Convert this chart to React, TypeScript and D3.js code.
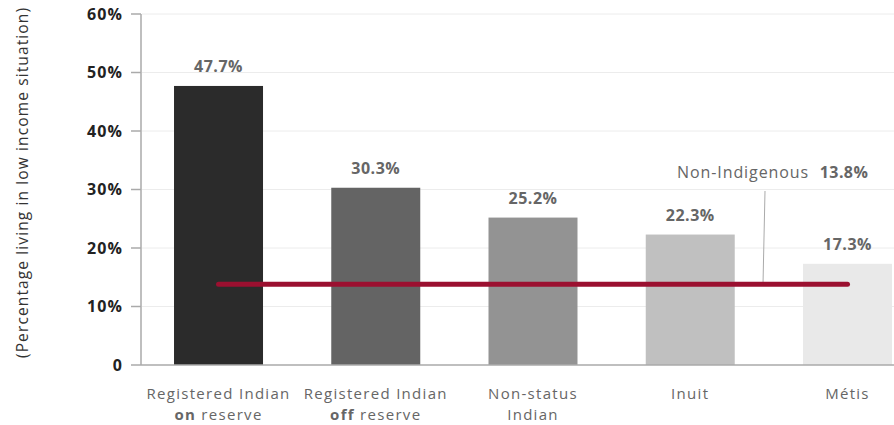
import React from "react";
import * as d3 from "d3";

const categories = ["onReserve", "offReserve", "nonStatus", "inuit", "metis"];
const values = [47.7, 30.3, 25.2, 22.3, 17.3];
const barColors = ["#2b2b2b", "#646464", "#939393", "#c0c0c0", "#e9e9e9"];
const labelLine1 = ["Registered Indian", "Registered Indian", "Non-status", "Inuit", "Métis"];
const labelLine2Bold = ["on", "off", "", "", ""];
const labelLine2Rest = [" reserve", " reserve", "Indian", "", ""];
const yTicks = [0, 10, 20, 30, 40, 50, 60];
const nonIndigenous = 13.8;
const nonIndigenousLabel = "Non-Indigenous";
const yTitle = "(Percentage living in low income situation)";

const W = 894;
const H = 425;
const FONT = "'Open Sans', sans-serif";

export default function App() {
  const x = d3
    .scaleBand<string>()
    .domain(categories)
    .range([141, 925])
    .paddingInner(0.434)
    .paddingOuter(0.21);
  const y = d3.scaleLinear().domain([0, 60]).range([365, 14]);
  const bw = x.bandwidth();
  const cx = (c: string) => (x(c) as number) + bw / 2;
  const fmt = (v: number) => `${v.toFixed(1)}%`;

  const lineY = y(nonIndigenous);
  const x0 = cx(categories[0]);
  const x1 = cx(categories[categories.length - 1]);

  return (
    <svg
      width={W}
      height={H}
      style={{ position: "absolute", left: 0, top: 0, background: "#fff" }}
      fontFamily={FONT}
    >
      {/* gridlines */}
      {yTicks.filter((t) => t > 0).map((t) => (
        <line key={t} x1={142} x2={W} y1={y(t)} y2={y(t)} stroke="#ececec" strokeWidth={1} />
      ))}
      {/* y ticks */}
      {yTicks.map((t) => (
        <g key={t}>
          <line x1={131} x2={141} y1={y(t)} y2={y(t)} stroke="#aaa" strokeWidth={1.5} />
          <text
            x={123}
            y={y(t)}
            dy="0.36em"
            textAnchor="end"
            fontSize={16}
            fontWeight={700}
            letterSpacing={1.1}
            fill="#222"
          >
            {t === 0 ? "0" : `${t}%`}
          </text>
        </g>
      ))}
      {/* bars */}
      {categories.map((c, i) => (
        <rect
          key={c}
          x={x(c)}
          y={y(values[i])}
          width={bw}
          height={y(0) - y(values[i])}
          fill={barColors[i]}
        />
      ))}
      {/* axes */}
      <line x1={141} x2={141} y1={y(60)} y2={y(0)} stroke="#aaa" strokeWidth={1.5} />
      <line x1={141} x2={W} y1={y(0)} y2={y(0)} stroke="#aaa" strokeWidth={1.5} />
      {/* value labels */}
      {categories.map((c, i) => (
        <text
          key={c}
          x={cx(c)}
          y={y(values[i]) - 14}
          textAnchor="middle"
          fontSize={16}
          fontWeight={700}
          letterSpacing={0.5}
          fill="#666"
        >
          {fmt(values[i])}
        </text>
      ))}
      {/* non-indigenous reference */}
      <line x1={765} y1={191} x2={763} y2={lineY} stroke="#aaa" strokeWidth={1} />
      <line
        x1={x0}
        x2={x1}
        y1={lineY}
        y2={lineY}
        stroke="#9b1030"
        strokeWidth={5}
        strokeLinecap="round"
      />
      <text x={809} y={178} textAnchor="end" fontSize={16} letterSpacing={0.9} fill="#666">
        {nonIndigenousLabel}
      </text>
      <text x={844} y={178} textAnchor="middle" fontSize={16} fontWeight={700} letterSpacing={0.4} fill="#666">
        {fmt(nonIndigenous)}
      </text>
      {/* category labels */}
      {categories.map((c, i) => (
        <g key={c} fill="#666" fontSize={15} letterSpacing={1.3} textAnchor="middle">
          <text x={cx(c)} y={399}>{labelLine1[i]}</text>
          {(labelLine2Bold[i] || labelLine2Rest[i]) && (
            <text x={cx(c)} y={420}>
              {labelLine2Bold[i] && <tspan fontWeight={700}>{labelLine2Bold[i]}</tspan>}
              {labelLine2Rest[i] && <tspan>{labelLine2Rest[i]}</tspan>}
            </text>
          )}
        </g>
      ))}
      {/* y title */}
      <text
        transform={`translate(28, 358) rotate(-90)`}
        fontSize={15.5}
        textLength={350}
        lengthAdjust="spacing"
        fill="#333"
      >
        {yTitle}
      </text>
    </svg>
  );
}
